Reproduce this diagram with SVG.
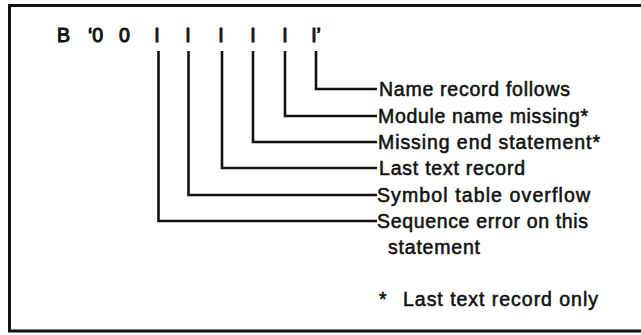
<svg xmlns="http://www.w3.org/2000/svg" width="641" height="335" viewBox="0 0 641 335">
<style>
.t{font-family:"Liberation Sans",Arial,Helvetica,sans-serif;font-size:19.5px;fill:#111;stroke:#111;stroke-width:0.55}
.b{stroke-width:1}
.w{fill:none;stroke:#111;stroke-width:2.6;stroke-linejoin:miter;stroke-linecap:butt}
.f{fill:none;stroke:#111;stroke-width:3}
</style>
<rect width="641" height="335" fill="#fff"/>
<g id="frame">
<path class="f" d="M641,5.5 H9.5 V331 H641"/>
</g>
<g id="bits">
<text class="t b" x="57" y="42">B</text>
<text class="t b" x="88" y="42">‘0</text>
<text class="t b" x="119" y="42">0</text>
<text class="t b" x="157" y="42" text-anchor="middle">I</text>
<text class="t b" x="188" y="42" text-anchor="middle">I</text>
<text class="t b" x="221" y="42" text-anchor="middle">I</text>
<text class="t b" x="253" y="42" text-anchor="middle">I</text>
<text class="t b" x="285" y="42" text-anchor="middle">I</text>
<text class="t b" x="316" y="42" text-anchor="middle">I’</text>
</g>
<g id="connectors">
<path class="w" d="M316,51 V89 H377"/>
<path class="w" d="M285,51 V116 H377"/>
<path class="w" d="M253,51 V142 H377"/>
<path class="w" d="M222,51 V168 H377"/>
<path class="w" d="M188.5,51 V195 H377"/>
<path class="w" d="M158.5,51 V221 H377"/>
</g>
<g id="n1"><text class="t" x="379" y="96" textLength="191" lengthAdjust="spacing">Name record follows</text></g>
<g id="n2"><text class="t" x="378" y="123" textLength="210" lengthAdjust="spacing">Module name missing*</text></g>
<g id="n3"><text class="t" x="378" y="149" textLength="222" lengthAdjust="spacing">Missing end statement*</text></g>
<g id="n4"><text class="t" x="379" y="175" textLength="146" lengthAdjust="spacing">Last text record</text></g>
<g id="n5"><text class="t" x="377" y="202" textLength="213" lengthAdjust="spacing">Symbol table overflow</text></g>
<g id="n6"><text class="t" x="377" y="228" textLength="211" lengthAdjust="spacing">Sequence error on this</text>
<text class="t" x="388" y="254" textLength="92" lengthAdjust="spacing">statement</text></g>
<g id="note"><text class="t" y="306"><tspan x="379">*</tspan><tspan x="403" textLength="195" lengthAdjust="spacing">Last text record only</tspan></text></g>
</svg>
